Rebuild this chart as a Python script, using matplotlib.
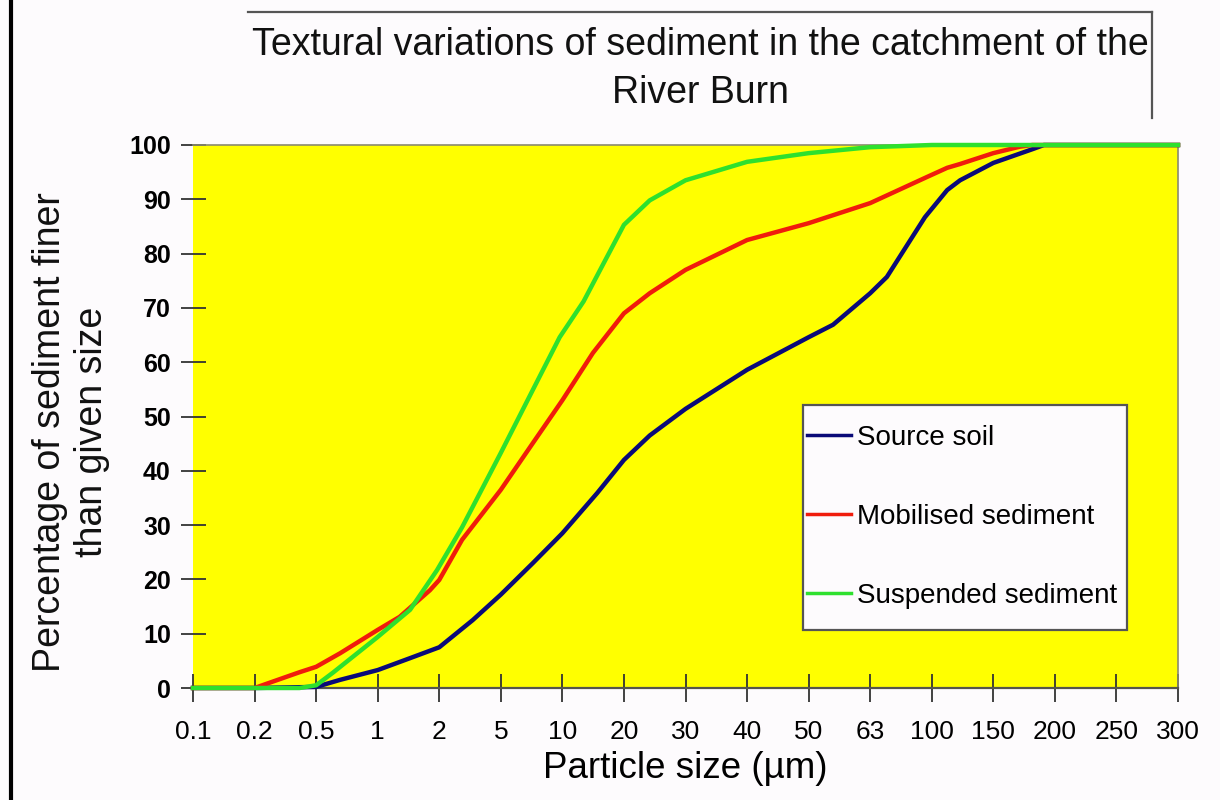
import numpy as np
import matplotlib
matplotlib.use("Agg")
import matplotlib.pyplot as plt
from matplotlib.lines import Line2D
from matplotlib.patches import Rectangle

# Particle-size axis categories (µm), equally spaced on the chart
size_ticks = [0.1, 0.2, 0.5, 1, 2, 5, 10, 20, 30, 40, 50, 63, 100, 150, 200, 250, 300]
size_labels = ["0.1", "0.2", "0.5", "1", "2", "5", "10", "20", "30", "40", "50",
               "63", "100", "150", "200", "250", "300"]
pct_ticks = [0, 10, 20, 30, 40, 50, 60, 70, 80, 90, 100]

# Cumulative grain-size curves: particle size (µm) and % finer
source_size = [0.1, 0.2, 0.5, 0.655, 1, 1.44, 2, 3.29, 5, 7.17, 10, 14.8, 20, 23.7,
               30, 40, 50, 54.8, 63, 71.4, 95, 110.7, 120.5, 150, 181, 190, 200, 250, 300]
source_pct = [0, 0, 0.2, 1.5, 3.3, 5.5, 7.5, 12.5, 17.2, 23, 28.5, 35.9, 42, 46.5,
              51.4, 58.6, 64.6, 66.9, 72.7, 75.7, 86.7, 91.7, 93.5, 96.7, 99.3, 100, 100, 100, 100]

mobilised_size = [0.1, 0.2, 0.39, 0.5, 0.655, 1, 1.28, 1.8, 2, 2.81, 5, 7.17, 10, 14.1,
                  20, 23.7, 30, 40, 50, 63, 96.4, 110.7, 120.5, 150, 170, 180, 200, 250, 300]
mobilised_pct = [0, 0, 2.9, 3.9, 6.4, 10.7, 13.1, 18, 19.9, 27.3, 36.5, 45.1, 53, 61.7,
                 69, 72.7, 77, 82.5, 85.6, 89.3, 94.1, 95.8, 96.5, 98.5, 99.7, 100, 100, 100, 100]

suspended_size = [0.1, 0.2, 0.39, 0.5, 0.603, 1, 1.44, 1.95, 2.81, 5, 7.17, 9.7, 12.7,
                  15.3, 20, 23.7, 30, 40, 50, 63, 100, 150, 200, 250, 300]
suspended_pct = [0, 0, 0, 0.5, 2.8, 9.4, 14.4, 21.7, 29.6, 43.3, 54.9, 64.6, 71.2,
                 77, 85.3, 89.8, 93.5, 96.9, 98.5, 99.6, 100, 100, 100, 100, 100]

series_names = ["Source soil", "Mobilised sediment", "Suspended sediment"]
series_colors = ["#0a0a78", "#f01c0c", "#2ee02e"]

plt.rcParams["font.family"] = ["Liberation Sans", "DejaVu Sans"]

log_ticks = np.log10(size_ticks)
tick_idx = np.arange(len(size_ticks), dtype=float)


def to_axis(x):
    x = np.clip(np.asarray(x, dtype=float), 1e-6, None)
    return np.interp(np.log10(x), log_ticks, tick_idx)


def from_axis(p):
    return 10 ** np.interp(np.asarray(p, dtype=float), tick_idx, log_ticks)


W, H = 1220, 800
fig = plt.figure(figsize=(12.2, 8), dpi=100, facecolor="#fdfbfd")
ax = fig.add_axes([193 / W, 1 - 688 / H, (1178 - 193) / W, (688 - 145) / H])
ax.set_facecolor("#ffff00")
ax.set_xscale("function", functions=(to_axis, from_axis))
ax.set_xlim(0.1, 300)
ax.set_ylim(0, 100)

for sz, pc, name, col in zip([source_size, mobilised_size, suspended_size],
                             [source_pct, mobilised_pct, suspended_pct],
                             series_names, series_colors):
    ax.plot(sz, pc, color=col, lw=3.2, label=name, clip_on=False, zorder=3,
            solid_joinstyle="round")

ax.set_xticks(size_ticks)
ax.set_xticklabels(size_labels, fontsize=19)
ax.xaxis.set_minor_locator(matplotlib.ticker.NullLocator())
ax.set_yticks(pct_ticks)
ax.set_yticklabels([str(v) for v in pct_ticks], fontsize=18, fontweight="bold")
ax.tick_params(axis="x", direction="inout", length=20, width=1.3, color="#333333", pad=13)
ax.tick_params(axis="y", direction="inout", length=18, width=1.3, color="#333333", pad=7)

for side in ["top", "right"]:
    ax.spines[side].set_color("#8a8a70")
    ax.spines[side].set_linewidth(1.2)
ax.spines["left"].set_visible(False)
ax.spines["bottom"].set_color("#55554a")
ax.spines["bottom"].set_linewidth(1.6)

ax.set_xlabel("Particle size (µm)", fontsize=26.5, labelpad=5)

fig.text(71 / W, 1 - 432 / H, "Percentage of sediment finer\nthan given size",
         rotation=90, ha="center", va="center", multialignment="center",
         fontsize=27, linespacing=1.2, color="#111111")

fig.text(700 / W, 1 - 69 / H,
         "Textural variations of sediment in the catchment of the\nRiver Burn",
         ha="center", va="center", multialignment="center", fontsize=27,
         linespacing=1.4, color="#111111")

# Title frame and left border
fig.add_artist(Line2D([248 / W, 1152 / W], [1 - 12 / H, 1 - 12 / H],
                      color="#555555", lw=1.6, transform=fig.transFigure))
fig.add_artist(Line2D([1152 / W, 1152 / W], [1 - 12 / H, 1 - 118 / H],
                      color="#555555", lw=1.6, transform=fig.transFigure))
fig.add_artist(Line2D([11 / W, 11 / W], [0, 1], color="#000000", lw=3,
                      transform=fig.transFigure))

# Legend box
ax.add_patch(Rectangle((803 / W, 1 - 630 / H), (1127 - 803) / W, (630 - 405) / H,
                       transform=fig.transFigure, facecolor="#fdfbfd",
                       edgecolor="#555555", lw=1.6, zorder=5, clip_on=False))
leg = ax.legend(loc="upper left", bbox_to_anchor=(807 / W, 1 - 425 / H),
                bbox_transform=fig.transFigure, fontsize=20, frameon=False,
                handlelength=1.6, handletextpad=0.2,
                labelspacing=1.9, borderpad=0, borderaxespad=0)
leg.set_zorder(6)
for h in leg.get_lines():
    h.set_linewidth(2.5)

fig.savefig("out.png", dpi=100, facecolor=fig.get_facecolor())
